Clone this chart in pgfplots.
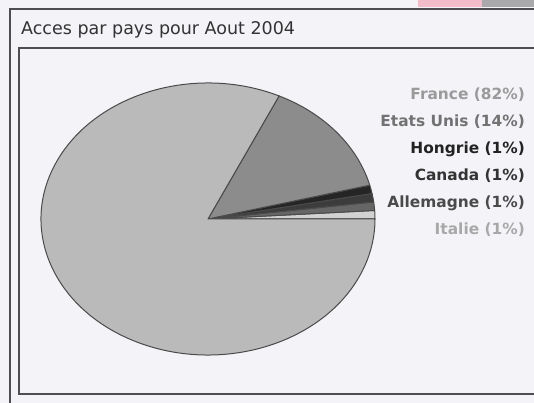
\documentclass[border=0pt]{standalone}
\usepackage{pgfplots}
\usepackage{pgfplotstable}
\pgfplotsset{compat=1.18}
\usepackage{fontspec}
\setmainfont{DejaVu Sans}
\definecolor{bg}{HTML}{F4F3F8}
\definecolor{framec}{HTML}{4E4E52}
\definecolor{outl}{HTML}{4A4A4A}
\definecolor{cIt}{HTML}{D2D2D2}
\definecolor{cAl}{HTML}{666666}
\definecolor{cCa}{HTML}{3C3C3C}
\definecolor{cHo}{HTML}{252525}
\definecolor{cEU}{HTML}{8C8C8C}
\definecolor{cFr}{HTML}{BABABA}
\definecolor{lFr}{HTML}{9A9A9A}
\definecolor{lEU}{HTML}{727272}
\definecolor{lHo}{HTML}{222222}
\definecolor{lCa}{HTML}{333333}
\definecolor{lAl}{HTML}{4A4A4A}
\definecolor{lIt}{HTML}{A8A8A8}
\definecolor{titlec}{HTML}{333333}
\definecolor{pinkc}{HTML}{F2BCCB}
\definecolor{grayc}{HTML}{A9A9AB}

\pgfplotstableread{
pays pct col
Italie 1 cIt
Allemagne 1 cAl
Canada 1 cCa
Hongrie 1 cHo
EtatsUnis 14 cEU
France 82 cFr
}\pie

\begin{document}
\begin{tikzpicture}
\fill[bg] (0,0) rectangle (534pt,403pt);
\begin{axis}[at={(0,0)}, anchor=south west, x=1pt, y=1pt,
  xmin=0, xmax=534, ymin=0, ymax=403, hide axis, clip=false]
% scan decoration top right
\fill[pinkc] (axis cs:418,403) rectangle (axis cs:482,396);
\fill[grayc] (axis cs:482,403) rectangle (axis cs:534,396);
% frames
\draw[framec, line width=2pt] (axis cs:534,394) -- (axis cs:10,394) -- (axis cs:10,0);
\draw[framec, line width=1.6pt] (axis cs:534,355) -- (axis cs:19,355) -- (axis cs:19,9) -- (axis cs:534,9);
% title
\node[anchor=west, inner sep=0pt, text=titlec, font=\fontsize{17.5}{20}\selectfont] at (axis cs:21,373) {Acces par pays pour Aout 2004};
% pie
\pgfplotsextra{
  \pgfplotstablegetrowsof{\pie}
  \pgfmathtruncatemacro\N{\pgfplotsretval-1}
  \gdef\acc{0}
  \foreach \i in {0,...,\N}{
    \pgfplotstablegetelem{\i}{pct}\of\pie
    \pgfmathsetmacro\a{\acc*3.6}
    \pgfmathsetmacro\b{(\acc+\pgfplotsretval)*3.6}
    \pgfmathsetmacro\newacc{\acc+\pgfplotsretval}
    \xdef\acc{\newacc}
    \pgfplotstablegetelem{\i}{col}\of\pie
    \edef\c{\pgfplotsretval}
    \filldraw[fill=\c, draw=outl, line width=1pt, line join=round]
      (axis cs:208,184) -- +(\a:167pt and 136pt)
      arc[start angle=\a, end angle=\b, x radius=167pt, y radius=136pt] -- cycle;
  }
}
% labels
\begin{scope}[every node/.style={anchor=east, inner sep=0pt, font=\bfseries\fontsize{15.4}{18}\selectfont}]
\node[text=lFr] at (axis cs:525,308) {France (82\%)};
\node[text=lEU] at (axis cs:525,281) {Etats Unis (14\%)};
\node[text=lHo] at (axis cs:525,254) {Hongrie (1\%)};
\node[text=lCa] at (axis cs:525,227) {Canada (1\%)};
\node[text=lAl] at (axis cs:525,200) {Allemagne (1\%)};
\node[text=lIt] at (axis cs:525,173) {Italie (1\%)};
\end{scope}
\end{axis}
\pgfresetboundingbox
\path[use as bounding box] (0,0) rectangle (534pt,403pt);
\end{tikzpicture}
\end{document}
